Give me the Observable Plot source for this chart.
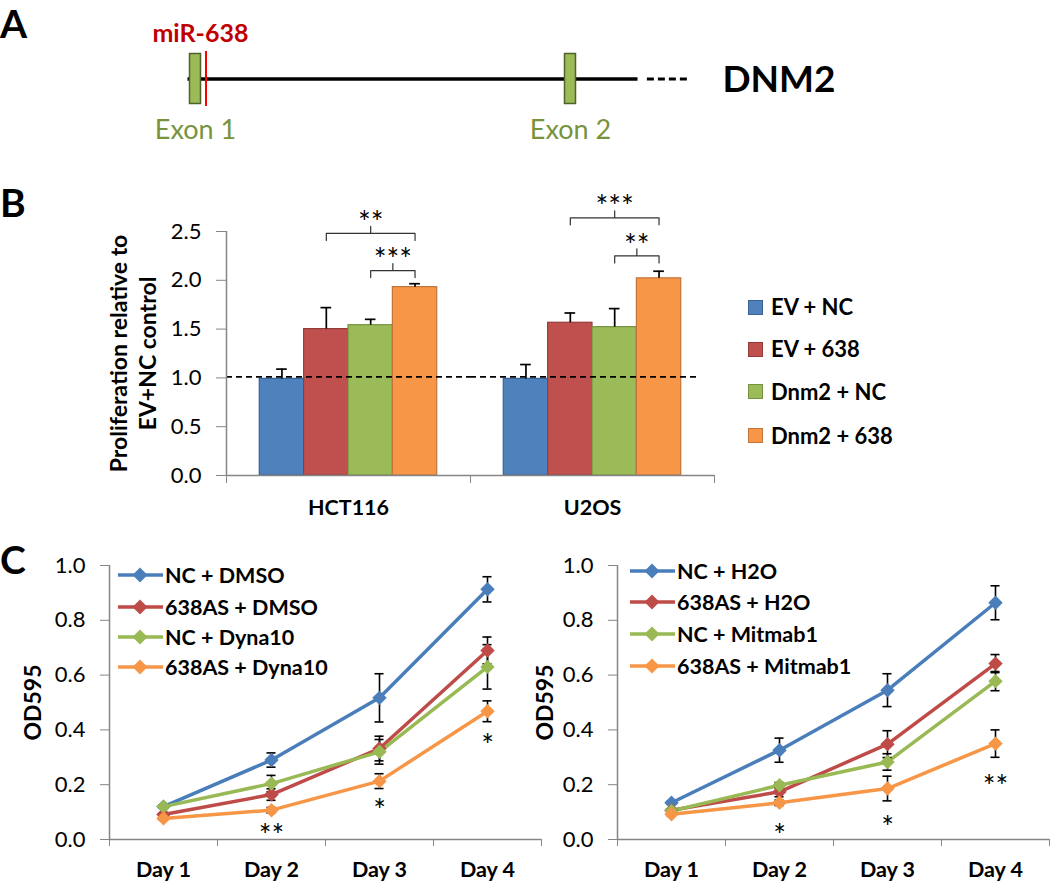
<!DOCTYPE html>
<html><head><meta charset="utf-8">
<script src="https://cdn.jsdelivr.net/npm/d3@7"></script>
<script src="https://cdn.jsdelivr.net/npm/@observablehq/plot@0.6"></script>
<style>
html,body{margin:0;padding:0;background:#fff;}
#fig{position:relative;width:1050px;height:883px;overflow:hidden;font-family:Lato,"Open Sans",sans-serif;color:#000;}
#fig svg{position:absolute;overflow:visible;}
.letter{position:absolute;font-weight:700;font-size:39px;line-height:47px;}
.lg{position:absolute;font-weight:700;white-space:nowrap;display:flex;align-items:center;height:24px;line-height:24px;}
</style></head>
<body><div id="fig"></div>
<script>
// ---------------- Panel A : gene schematic ----------------
const exonLabels = ["Exon 1", "Exon 2"];
const exonPositions = [0, 1];            // relative gene coordinate
const geneSpan = [-0.02, 1.18];
const geneContinuation = [1.205, 1.318];
const mirName = "miR-638";
const mirSite = 0.028;
const geneName = "DNM2";
const geneNamePos = 1.405;

// ---------------- Panel B : proliferation bars ----------------
const cellLines = ["HCT116", "U2OS"];
const seriesB = ["EV + NC", "EV + 638", "Dnm2 + NC", "Dnm2 + 638"];
const colorsB = ["#4F81BD", "#C0504D", "#9BBB59", "#F79646"];
const edgesB = ["#3A6394", "#943C3A", "#76913F", "#C0743A"];
const hctMeans = [0.99, 1.50, 1.54, 1.93];
const hctErrors = [0.10, 0.22, 0.06, 0.035];
const u2osMeans = [0.99, 1.565, 1.52, 2.02];
const u2osErrors = [0.147, 0.10, 0.19, 0.073];
const bReference = 1.01;
const bTicks = [0, 0.5, 1, 1.5, 2, 2.5];
const bBrackets = [
  {cell: "HCT116", from: "EV + 638", to: "Dnm2 + 638", y: 2.48, label: "**"},
  {cell: "HCT116", from: "Dnm2 + NC", to: "Dnm2 + 638", y: 2.10, label: "***"},
  {cell: "U2OS", from: "EV + 638", to: "Dnm2 + 638", y: 2.64, label: "***"},
  {cell: "U2OS", from: "Dnm2 + NC", to: "Dnm2 + 638", y: 2.25, label: "**"}
];
const bTitle = "Proliferation relative to\nEV+NC control";

// ---------------- Panel C : growth curves ----------------
const days = ["Day 1", "Day 2", "Day 3", "Day 4"];
const lineColors = ["#4A7EBB", "#BE4B48", "#98B954", "#F79646"];
const cTicks = [0, 0.2, 0.4, 0.6, 0.8, 1.0];
// left (Dyna10)
const seriesLeft = ["NC + DMSO", "638AS + DMSO", "NC + Dyna10", "638AS + Dyna10"];
const ncDmso = [0.12, 0.29, 0.517, 0.913];
const ncDmsoErr = [0.005, 0.026, 0.088, 0.046];
const asDmso = [0.091, 0.164, 0.332, 0.69];
const asDmsoErr = [0.005, 0.021, 0.045, 0.049];
const ncDyna = [0.12, 0.204, 0.32, 0.63];
const ncDynaErr = [0.005, 0.03, 0.045, 0.081];
const asDyna = [0.077, 0.107, 0.213, 0.468];
const asDynaErr = [0.005, 0.01, 0.027, 0.038];
const leftStars = [{day: 2, label: "**", y: 0.04}, {day: 3, label: "*", y: 0.131}, {day: 4, label: "*", y: 0.368}];
// right (Mitmab1)
const seriesRight = ["NC + H2O", "638AS + H2O", "NC + Mitmab1", "638AS + Mitmab1"];
const ncH2o = [0.134, 0.326, 0.545, 0.864];
const ncH2oErr = [0.005, 0.044, 0.06, 0.062];
const asH2o = [0.107, 0.174, 0.348, 0.642];
const asH2oErr = [0.005, 0.018, 0.049, 0.033];
const ncMit = [0.104, 0.198, 0.283, 0.578];
const ncMitErr = [0.005, 0.01, 0.03, 0.035];
const asMit = [0.092, 0.134, 0.186, 0.35];
const asMitErr = [0.005, 0.01, 0.045, 0.05];
const rightStars = [{day: 2, label: "*", y: 0.04}, {day: 3, label: "*", y: 0.068}, {day: 4, label: "**", y: 0.219}];

// ---------------- helpers ----------------
const fig = document.getElementById("fig");
const axisGrey = "#868686";
const baseStyle = {fontFamily: "Lato, 'Open Sans', sans-serif", fontSize: "20px", background: "none", overflow: "visible", color: "#000"};
function place(el, left, top) { el.style.left = left + "px"; el.style.top = top + "px"; fig.appendChild(el); }
function letter(t, left, top) { const d = document.createElement("div"); d.className = "letter"; d.textContent = t; place(d, left, top); }

// ---------------- Panel A ----------------
const plotA = Plot.plot({
  width: 1050, height: 160, marginLeft: 195, marginRight: 480, marginTop: 53.5, marginBottom: 56.5,
  x: {domain: [0, 1], axis: null}, y: {domain: [-1, 1], axis: null},
  style: baseStyle,
  marks: [
    Plot.ruleY([0], {x1: geneSpan[0], x2: geneSpan[1], stroke: "#000", strokeWidth: 3.5}),
    Plot.ruleY([0], {x1: geneContinuation[0], x2: geneContinuation[1], stroke: "#000", strokeWidth: 3, strokeDasharray: "7,4"}),
    Plot.rect(exonPositions, {x1: d => d, x2: d => d, y1: -1, y2: 1, insetLeft: -5.5, insetRight: -5.5, fill: "#9BBB59", stroke: "#4F6228", strokeWidth: 1.5}),
    Plot.ruleX([mirSite], {y1: -1.1, y2: 1.1, stroke: "#FF0000", strokeWidth: 2}),
    Plot.text(exonLabels, {x: (d, i) => exonPositions[i], y: -1, dy: 26, text: d => d, textAnchor: "middle", lineAnchor: "middle", fill: "#77933C", fontSize: 27}),
    Plot.text([mirName], {x: mirSite, y: 1, dy: -20, dx: -53.6, text: d => d, textAnchor: "start", lineAnchor: "middle", fill: "#C00000", fontWeight: 700, fontSize: 25}),
    Plot.text([geneName], {x: geneNamePos, y: 0, dy: 1.5, text: d => d, textAnchor: "start", lineAnchor: "middle", fontWeight: 700, fontSize: 37})
  ]
});
place(plotA, 0, 0);

// ---------------- Panel B ----------------
const bXDomain = [-0.75, 4.75];
const bRows = cellLines.flatMap((c, ci) => seriesB.map((s, i) => ({
  cell: c, series: s, i,
  mean: [hctMeans, u2osMeans][ci][i],
  err: [hctErrors, u2osErrors][ci][i]
})));
const notch = 0.072;
const bracketPts = bBrackets.flatMap((b, k) => {
  const a = seriesB.indexOf(b.from) + 0.5, c = seriesB.indexOf(b.to) + 0.5, m = (a + c) / 2;
  return [[a, b.y - notch], [a, b.y], [m, b.y], [m, b.y + notch], [m, b.y], [c, b.y], [c, b.y - notch]]
    .map(([x, y]) => ({k, cell: b.cell, x, y}));
});
const plotB = Plot.plot({
  width: 740, height: 380, marginLeft: 225, marginRight: 26, marginTop: 71, marginBottom: 65,
  fx: {domain: cellLines, padding: 0, axis: null},
  x: {domain: bXDomain},
  y: {domain: [0, 2.5]},
  color: {domain: seriesB, range: colorsB},
  style: baseStyle,
  marks: [
    Plot.rect(bRows, {fx: "cell", x1: "i", x2: d => d.i + 1, y1: 0, y2: "mean", fill: "series", stroke: d => edgesB[d.i], strokeWidth: 1.2}),
    Plot.ruleX(bRows, {fx: "cell", x: d => d.i + 0.5, y1: "mean", y2: d => d.mean + d.err, stroke: "#000", strokeWidth: 1.7}),
    Plot.ruleY(bRows, {fx: "cell", y: d => d.mean + d.err, x1: d => d.i + 0.38, x2: d => d.i + 0.62, stroke: "#000", strokeWidth: 1.7}),
    Plot.ruleY(["HCT116"], {fx: d => d, y: () => bReference, stroke: "#000", strokeWidth: 1.6, strokeDasharray: "6,4"}),
    Plot.ruleY(["U2OS"], {fx: d => d, y: () => bReference, insetRight: 17, stroke: "#000", strokeWidth: 1.6, strokeDasharray: "6,4"}),
    Plot.ruleY([0], {stroke: axisGrey, strokeWidth: 1.5}),
    Plot.ruleX(["HCT116"], {fx: d => d, x: () => bXDomain[0], stroke: axisGrey, strokeWidth: 1.5}),
    Plot.axisY({ticks: bTicks, tickFormat: d3.format(".1f"), tickSize: 10, tickPadding: 15, fontSize: 22, stroke: axisGrey, label: null}),
    Plot.axisX({ticks: bXDomain, tickSize: 8, tickFormat: () => "", stroke: axisGrey, label: null}),
    Plot.line(bracketPts, {fx: "cell", x: "x", y: "y", z: "k", stroke: "#333", strokeWidth: 1.2}),
    Plot.text(bBrackets, {fx: "cell", x: b => (seriesB.indexOf(b.from) + seriesB.indexOf(b.to)) / 2 + 0.5, y: "y", text: "label", textAnchor: "middle", lineAnchor: "middle", dy: -10, fontSize: 30}),
    Plot.text(cellLines, {fx: d => d, text: d => d, frameAnchor: "bottom", textAnchor: "middle", lineAnchor: "middle", dy: 33, fontWeight: 700, fontSize: 21.5}),
    Plot.text(["HCT116"], {fx: d => d, text: () => bTitle, frameAnchor: "left", textAnchor: "middle", lineAnchor: "middle", rotate: -90, dx: -94, lineHeight: 1.25, fontWeight: 700, fontSize: 23})
  ]
});
place(plotB, 0, 160);

// legend B
seriesB.forEach((s, i) => {
  const row = document.createElement("div");
  row.className = "lg";
  row.style.fontSize = "22px";
  row.innerHTML = `<span style="display:inline-block;width:13px;height:13px;background:${colorsB[i]};border:1px solid ${edgesB[i]};margin-right:8px"></span>${s}`;
  place(row, 748, [307, 349.3, 391.7, 435.5][i] - 12);
});

// ---------------- Panel C ----------------
const cXDomain = [0.5, 4.5];
function linePlot(series, means, errors, stars, width, marginLeft, marginRight, titleDx) {
  const rows = series.flatMap((s, si) => days.map((d, di) => ({series: s, x: di + 1, value: means[si][di], err: errors[si][di]})));
  const caps = rows.flatMap(r => [{x: r.x, y: r.value + r.err}, {x: r.x, y: r.value - r.err}]);
  return Plot.plot({
    width, height: 343, marginLeft, marginRight, marginTop: 25, marginBottom: 44,
    x: {domain: cXDomain}, y: {domain: [0, 1]},
    color: {domain: series, range: lineColors},
    style: baseStyle,
    marks: [
      Plot.ruleY([0], {stroke: axisGrey, strokeWidth: 1.5}),
      Plot.ruleX([cXDomain[0]], {stroke: axisGrey, strokeWidth: 1.5}),
      Plot.axisY({ticks: cTicks, tickFormat: d3.format(".1f"), tickSize: 9, tickPadding: 15, fontSize: 22, stroke: axisGrey, label: null}),
      Plot.axisX({ticks: d3.range(cXDomain[0], cXDomain[1] + 0.01, 1), tickSize: 7, tickFormat: () => "", stroke: axisGrey, label: null}),
      Plot.text(days, {x: (d, i) => i + 1, text: d => d, frameAnchor: "bottom", textAnchor: "middle", lineAnchor: "middle", dy: 31, fontWeight: 700, fontSize: 21.5}),
      Plot.text(["OD595"], {text: d => d, frameAnchor: "left", textAnchor: "middle", lineAnchor: "middle", rotate: -90, dx: titleDx, fontWeight: 700, fontSize: 23}),
      Plot.line(rows, {x: "x", y: "value", z: "series", stroke: "series", strokeWidth: 3.5}),
      Plot.ruleX(rows, {x: "x", y1: d => d.value - d.err, y2: d => d.value + d.err, stroke: "#000", strokeWidth: 1.6}),
      Plot.ruleY(caps, {y: "y", x1: d => d.x - 0.042, x2: d => d.x + 0.042, stroke: "#000", strokeWidth: 1.6}),
      Plot.dot(rows, {x: "x", y: "value", fill: "series", symbol: "diamond2", r: 6.5}),
      Plot.text(stars, {x: "day", y: "y", text: "label", textAnchor: "middle", lineAnchor: "middle", fontSize: 30, dy: 7.5})
    ]
  });
}
const plotCL = linePlot(seriesLeft, [ncDmso, asDmso, ncDyna, asDyna], [ncDmsoErr, asDmsoErr, ncDynaErr, asDynaErr], leftStars, 545, 109, 4, -76);
place(plotCL, 0, 540);
const plotCR = linePlot(seriesRight, [ncH2o, asH2o, ncMit, asMit], [ncH2oErr, asH2oErr, ncMitErr, asMitErr], rightStars, 530, 97, 1, -72);
place(plotCR, 520, 540);

function lineLegend(series, left, rowsY) {
  series.forEach((s, i) => {
    const row = document.createElement("div");
    row.className = "lg";
    row.style.fontSize = "21.5px";
    row.innerHTML = `<svg width="47" height="24" style="position:static;flex:none"><line x1="0" x2="45" y1="12" y2="12" stroke="${lineColors[i]}" stroke-width="3.5"/><polygon points="22,4.5 29.5,12 22,19.5 14.5,12" fill="${lineColors[i]}"/></svg><span>${s}</span>`;
    place(row, left, rowsY[i] - 12);
  });
}
lineLegend(seriesLeft, 118, [575, 606.7, 637.3, 667.3]);
lineLegend(seriesRight, 630, [570.7, 602.3, 634, 665.7]);

letter("A", 0, 0);
letter("B", 0, 179.4);
letter("C", 0, 536.4);
</script>
</body></html>
